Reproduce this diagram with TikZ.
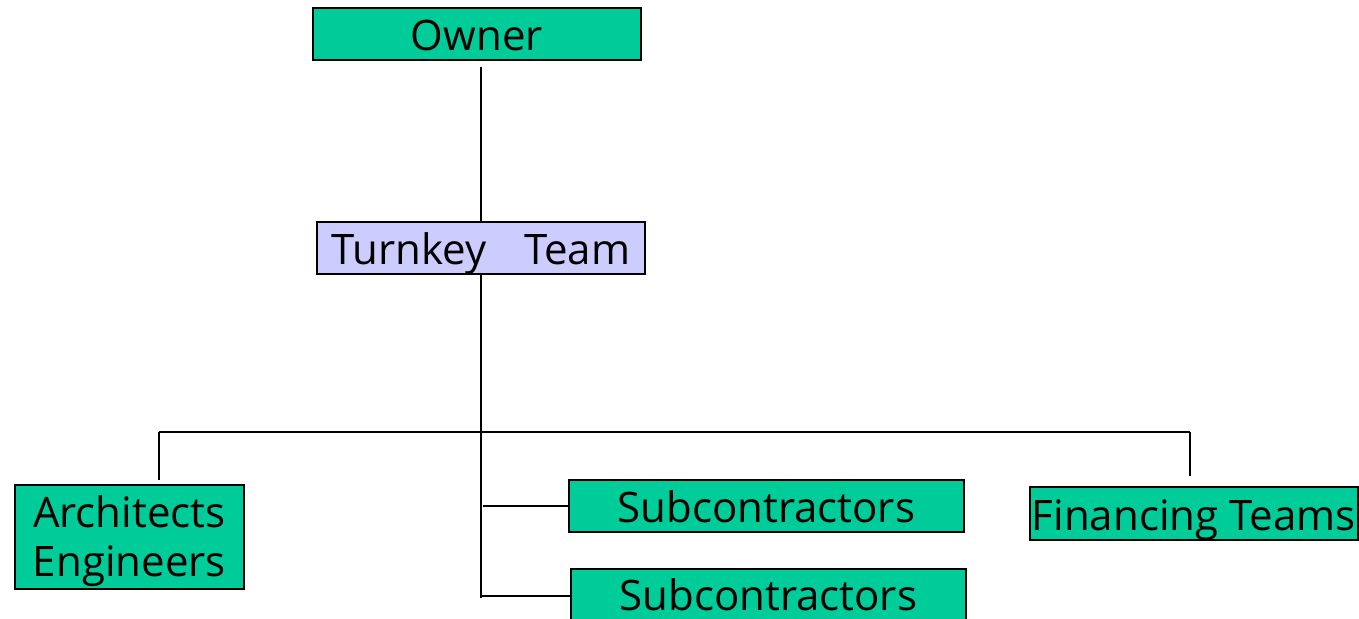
\documentclass[tikz,border=0pt]{standalone}
\usepackage{fontspec}
\setmainfont{Open Sans}
\definecolor{boxgreen}{RGB}{0,204,153}
\definecolor{boxlilac}{RGB}{204,204,255}
\begin{document}
\begin{tikzpicture}[x=1pt,y=-1pt,
  orgbox/.style={draw=black,line width=1.6pt,fill=boxgreen,inner sep=0pt,
    font=\fontsize{42}{49}\selectfont,align=center},
  oneline/.style={orgbox,text height=36pt,text depth=2pt},
  link/.style={draw=black,line width=2pt}]
\useasboundingbox (0,0) rectangle (1359,618);
\clip (0,0) rectangle (1359,618);
% boxes, placed by their corners
\node[oneline,minimum width=328pt,minimum height=52pt,anchor=north west] (owner) at (312,7) {Owner};
\node[oneline,fill=boxlilac,minimum width=328pt,minimum height=52pt,anchor=north west] (team) at (316,221) {Turnkey\hspace{0.9em}Team};
\node[orgbox,minimum width=229pt,minimum height=104pt,anchor=north west,
  label={[font=\fontsize{42}{49}\selectfont,align=center,yshift=-4pt]center:Architects\\Engineers}] (arch) at (14,484) {};
\node[oneline,minimum width=395pt,minimum height=52pt,anchor=north west] (sub1) at (568,479) {Subcontractors};
\node[oneline,minimum width=395pt,minimum height=60pt,anchor=north west,text depth=12pt] (sub2) at (570,568) {Subcontractors};
\node[oneline,minimum width=328pt,minimum height=53pt,anchor=north west] (fin) at (1029,486) {Financing Teams};
% junction points of the connector tree
\coordinate (busL) at (159,432);
\coordinate (busR) at (1190,432);
\coordinate (trunkEnd) at (481,598);
% connectors
\draw[link,shorten <=6pt] (owner.south -| 481,0) -- (team.north -| 481,0);
\draw[link] (team.south -| 481,0) -- (trunkEnd);
\draw[link] (busL) -- (busR);
\draw[link,shorten >=4pt] (busL) -- (busL |- arch.north);
\draw[link,shorten >=10pt] (busR) -- (busR |- fin.north);
\draw[link] (sub1.west) -- (sub1.west -| 483,0);
\draw[link] (sub2.west |- 0,596) -- (trunkEnd |- 0,596);
\end{tikzpicture}
\end{document}
